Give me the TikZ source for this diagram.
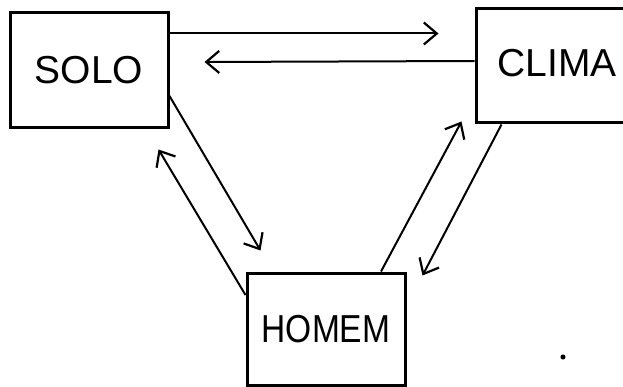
\documentclass[tikz,border=0pt]{standalone}
\usepackage{fontspec}
\setmainfont{Liberation Sans}
\usetikzlibrary{arrows.meta,calc}
\tikzset{
  box/.style={draw, line width=3pt, inner sep=0pt, font=\fontsize{39}{41}\selectfont},
  arr/.style={line width=2pt, -{Straight Barb[length=13pt,width=22pt,line width=2.2pt]}},
}
\begin{document}
\begin{tikzpicture}[x=1pt,y=-1pt]
\useasboundingbox (0,0) rectangle (623,387);
\node[box, minimum width=158pt, minimum height=115pt] (solo) at (89,70.5) {SOLO};
\node[box, minimum width=162pt, minimum height=114pt, text height=27pt, text depth=6pt] (clima) at (557,66) {CLIMA};
\node[box, minimum width=158pt, minimum height=112pt] (homem) at (326,329) {\scalebox{0.86}[1]{HOMEM}};
\draw[arr] ($(solo.north east)+(0,22)$) -- ($(clima.north west)+(-36,26)$);
\draw[arr] ($(clima.west)+(0,-5)$) -- ($(solo.east)+(35,-8.5)$);
\draw[arr] ($(solo.east)+(0,25.5)$) -- ($(homem.north west)+(15,-21)$);
\draw[arr] ($(homem.west)+(0,-34)$) -- ($(solo.south east)+(-11,20)$);
\draw[arr] ($(homem.north)+(55,0)$) -- ($(clima.south west)+(-13,-3)$);
\draw[arr] ($(clima.south west)+(27,0)$) -- ($(homem.north east)+(16,4)$);
\node[circle, fill, inner sep=1.8pt] (dot) at (563,357) {};
\end{tikzpicture}
\end{document}
